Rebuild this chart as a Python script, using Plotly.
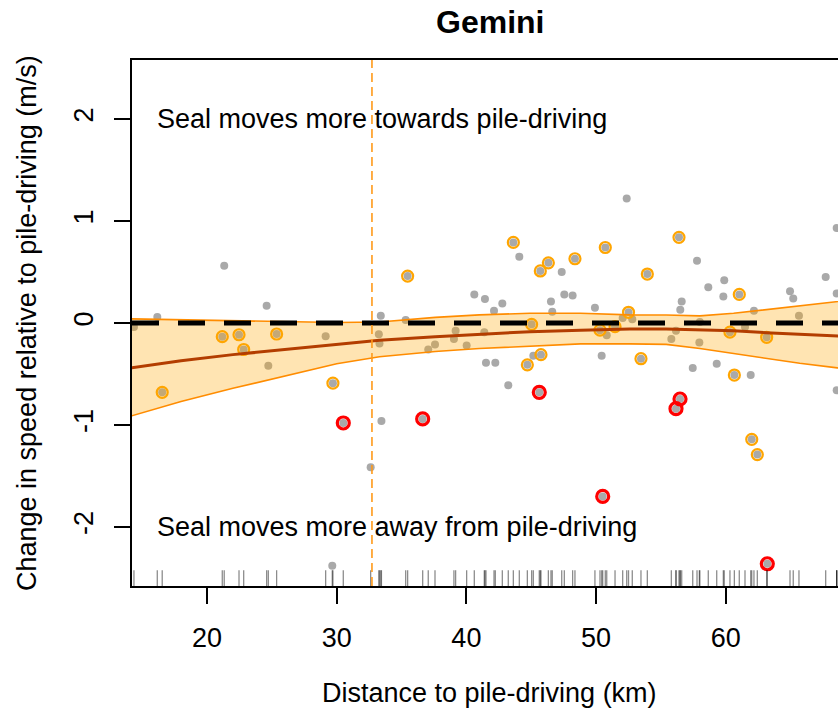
import plotly.graph_objects as go

# ---- observations: distance to pile-driving (km) vs change in speed (m/s) ----
grey_x = [14.37, 16.17, 21.33, 24.6, 29.15, 24.73, 33.25, 33.3, 33.4, 33.45,
          35.32, 44.08, 47.35, 52.36, 40.61, 41.43, 42.77, 42.13, 46.52, 47.55,
          48.19, 46.62, 49.91, 50.82, 39.17, 39.04, 37.58, 37.06, 40.02, 41.38,
          45.16, 41.51, 42.23, 50.43, 43.23, 57.78, 59.88, 58.65, 59.81, 56.6,
          56.49, 62.17, 67.7, 64.95, 65.2, 68.55, 68.55, 65.64, 58.0, 61.48,
          56.16, 55.8, 57.96, 52.05, 52.79, 57.45, 59.3, 61.92, 68.55, 32.62,
          29.66]
grey_y = [-0.04, 0.06, 0.56, 0.17, -0.13, -0.42, -0.11, -0.20, 0.07, -0.96,
          0.03, 0.65, 0.50, 1.22, 0.28, 0.235, 0.19, 0.12, 0.21, 0.28,
          0.27, 0.11, 0.15, -0.12, -0.075, -0.157, -0.21, -0.26, -0.22, -0.09,
          -0.32, -0.39, -0.39, -0.32, -0.61, 0.61, 0.42, 0.35, 0.26, 0.21,
          0.13, 0.12, 0.45, 0.31, 0.24, 0.93, 0.29, 0.07, 0.01, -0.04,
          -0.075, -0.157, -0.19, 0.05, 0.036, -0.44, -0.40, -0.51, -0.66, -1.415,
          -2.38]

# highlighted observations (orange ring)
orange_x = [16.55, 21.18, 22.47, 22.83, 25.37, 29.71, 35.47, 43.62, 46.32, 45.7,
            48.37, 50.71, 52.5, 45.03, 50.3, 51.46, 45.75, 44.7, 56.39, 53.95,
            61.04, 60.32, 63.15, 53.46, 60.66, 62.0, 62.43]
orange_y = [-0.68, -0.134, -0.115, -0.26, -0.108, -0.59, 0.46, 0.79, 0.59, 0.51,
            0.63, 0.74, 0.105, -0.013, -0.07, -0.036, -0.31, -0.41, 0.84, 0.48,
            0.28, -0.09, -0.14, -0.35, -0.51, -1.14, -1.29]

# strongly affected observations (red ring)
red_x = [30.51, 36.63, 45.62, 56.47, 56.16, 50.51, 63.2]
red_y = [-0.98, -0.94, -0.68, -0.745, -0.84, -1.70, -2.36]

# ---- smooth fit with confidence band ----
fit_x = [14.2, 18, 22, 26, 30, 33.3, 37.6, 41, 44.9, 48.8, 52.6, 55.4, 58,
         60.6, 63.1, 65.7, 68.6, 70]
fit_mid = [-0.44, -0.37, -0.31, -0.26, -0.21, -0.17, -0.135, -0.11, -0.085,
           -0.07, -0.06, -0.06, -0.065, -0.075, -0.095, -0.11, -0.127, -0.135]
fit_upper = [0.04, 0.03, 0.02, 0.01, 0.005, 0.01, 0.055, 0.08, 0.095, 0.095,
             0.08, 0.078, 0.07, 0.095, 0.13, 0.17, 0.21, 0.23]
fit_lower = [-0.91, -0.77, -0.64, -0.52, -0.40, -0.33, -0.28, -0.25, -0.225,
             -0.205, -0.205, -0.21, -0.25, -0.30, -0.35, -0.395, -0.44, -0.46]

threshold_km = 32.72
x_ticks = [20, 30, 40, 50, 60]
y_ticks = [-2, -1, 0, 1, 2]
y_tick_text = ["-2", "-1", "0", "1", "2"]
x_range = [14.22, 68.65]
y_range = [-2.578, 2.578]

FONT = "Liberation Sans, Arial, sans-serif"
FS = 27

all_x = grey_x + orange_x + red_x
all_y = grey_y + orange_y + red_y

fig = go.Figure()

# grey points (every observation)
fig.add_trace(go.Scatter(x=all_x, y=all_y, mode="markers",
                         marker=dict(size=8, color="#A9A9A9", line=dict(width=0)),
                         hoverinfo="skip", showlegend=False))
# rings
fig.add_trace(go.Scatter(x=orange_x, y=orange_y, mode="markers",
                         marker=dict(size=11, symbol="circle-open", color="#FFA500",
                                     line=dict(width=2.2, color="#FFA500")),
                         showlegend=False))
fig.add_trace(go.Scatter(x=red_x, y=red_y, mode="markers",
                         marker=dict(size=12, symbol="circle-open", color="#FF0000",
                                     line=dict(width=3.2, color="#FF0000")),
                         showlegend=False))

# confidence band (semi-transparent, drawn over the points)
fig.add_trace(go.Scatter(x=fit_x + fit_x[::-1], y=fit_upper + fit_lower[::-1],
                         mode="lines", fill="toself",
                         fillcolor="rgba(255,165,0,0.3)",
                         line=dict(width=0), showlegend=False))
for edge in (fit_upper, fit_lower):
    fig.add_trace(go.Scatter(x=fit_x, y=edge, mode="lines",
                             line=dict(color="#FF8C00", width=1.6),
                             showlegend=False))

# reference line at zero change
fig.add_trace(go.Scatter(x=[x_range[0], 70], y=[0, 0], mode="lines",
                         line=dict(color="black", width=5, dash="27px,19px"),
                         showlegend=False))

# fitted curve
fig.add_trace(go.Scatter(x=fit_x, y=fit_mid, mode="lines",
                         line=dict(color="#B33D00", width=3),
                         showlegend=False))

# rug along the bottom axis
shapes = []
for xv in all_x:
    shapes.append(dict(type="line", xref="x", yref="y domain", x0=xv, x1=xv,
                       y0=0, y1=0.03, line=dict(color="rgba(0,0,0,0.45)", width=1.3)))
# threshold distance
shapes.append(dict(type="line", xref="x", yref="y domain", x0=threshold_km,
                   x1=threshold_km, y0=0, y1=1,
                   line=dict(color="#FF9A1A", width=1.6, dash="9px,5px")))

annotations = [
    dict(text="<b>Gemini</b>", xref="paper", yref="paper", x=0.507, y=1.072,
         showarrow=False, font=dict(size=32, family=FONT, color="black"),
         xanchor="center", yanchor="middle"),
    dict(text="Distance to pile-driving (km)", xref="paper", yref="paper",
         x=0.507, y=-0.2034, showarrow=False,
         font=dict(size=FS, family=FONT, color="black"),
         xanchor="center", yanchor="middle"),
    dict(text="Change in speed relative to pile-driving (m/s)", xref="paper",
         yref="paper", x=-0.1487, y=0.5, textangle=-90, showarrow=False,
         font=dict(size=FS, family=FONT, color="black"),
         xanchor="center", yanchor="middle"),
    dict(text="Seal moves more towards pile-driving", xref="x", yref="y",
         x=16.0, y=2, showarrow=False, xanchor="left", yanchor="middle",
         font=dict(size=FS, family=FONT, color="black")),
    dict(text="Seal moves more away from pile-driving", xref="x", yref="y",
         x=16.0, y=-2, showarrow=False, xanchor="left", yanchor="middle",
         font=dict(size=FS, family=FONT, color="black")),
]

fig.update_layout(
    width=838, height=713,
    margin=dict(l=132, r=0, t=60, b=127, pad=0),
    paper_bgcolor="white", plot_bgcolor="white",
    shapes=shapes, annotations=annotations,
    font=dict(family=FONT, size=FS, color="black"),
    showlegend=False,
)
fig.update_xaxes(range=x_range, tickvals=x_ticks, ticks="outside", ticklen=16,
                 tickwidth=2, tickcolor="black", showline=True, linecolor="black",
                 linewidth=2, mirror=True, showgrid=False, zeroline=False,
                 ticklabelstandoff=11, tickfont=dict(size=FS, family=FONT))
fig.update_yaxes(range=y_range, tickvals=y_ticks, ticktext=y_tick_text,
                 ticks="outside", ticklen=16,
                 tickwidth=2, tickcolor="black", showline=True, linecolor="black",
                 linewidth=2, showgrid=False, zeroline=False, tickangle=-90,
                 ticklabelstandoff=10, tickfont=dict(size=FS, family=FONT))

fig.write_html("out.html")
